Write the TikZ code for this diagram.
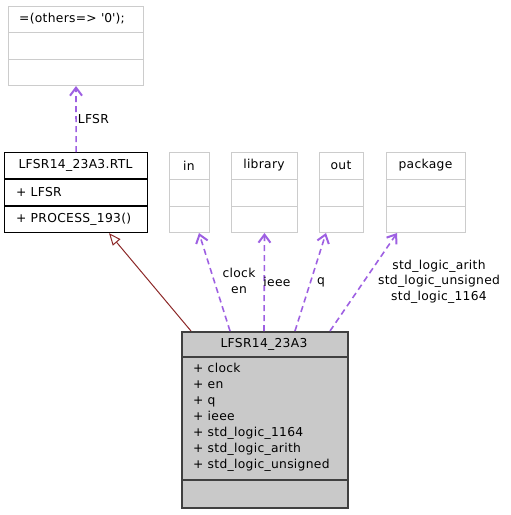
\documentclass[tikz,border=0pt]{standalone}
\usepackage{fontspec}
\setmainfont{DejaVu Sans}[LetterSpace=2.5]
\usetikzlibrary{arrows.meta}
\definecolor{boxgray}{RGB}{204,204,204}
\definecolor{mainfill}{RGB}{201,201,201}
\definecolor{maindraw}{RGB}{64,64,64}
\definecolor{deppurple}{RGB}{158,96,226}
\definecolor{inhred}{RGB}{140,40,40}
\tikzset{
  lightbox/.style={draw=boxgray, line width=1pt, fill=white, anchor=north west, inner sep=0pt},
  darkbox/.style={draw=black, line width=1.2pt, fill=white, anchor=north west, inner sep=0pt},
  mainbox/.style={draw=maindraw, line width=1.5pt, fill=mainfill, anchor=north west, inner sep=0pt},
  txt/.style={font=\fontsize{12.3}{14}\selectfont, inner sep=0pt},
  dep/.style={draw=deppurple, line width=1.6pt, dash pattern=on 6pt off 4pt, -{Straight Barb[length=8pt,width=12pt,line width=2pt]}},
  inh/.style={draw=inhred, line width=1pt, -{Triangle[open,length=12pt,width=10pt,fill=white]}},
}
\begin{document}
\begin{tikzpicture}[x=1pt,y=-1pt]
\useasboundingbox (0,0) rectangle (511,515);
% top box
\node[lightbox, minimum width=135pt, minimum height=79pt] (others) at (8,6) {};
\draw[boxgray, line width=1pt] (8,32) -- (143,32) (8,59) -- (143,59);
\node[txt] (otherst) at (72,19) {=(others=> \textquotesingle 0\textquotesingle);};
% RTL box
\node[darkbox, minimum width=143pt, minimum height=80pt] (rtl) at (4,152) {};
\draw[black, line width=1.4pt] (4,179) -- (147,179);
\draw[black, line width=1.2pt] (4,206) -- (147,206);
\node[txt] (rtlt) at (75.5,165.5) {LFSR14\_23A3.RTL};
\node[txt, anchor=west] (rtla) at (16,192.5) {+ LFSR};
\node[txt, anchor=west] (rtlm) at (16,219.5) {+ PROCESS\_193()};
% in
\node[lightbox, minimum width=40pt, minimum height=80pt] (in) at (169,152) {};
\draw[boxgray, line width=1pt] (169,179) -- (209,179) (169,206) -- (209,206);
\node[txt] (int) at (189,165.5) {in};
% library
\node[lightbox, minimum width=66pt, minimum height=80pt] (lib) at (231,152) {};
\draw[boxgray, line width=1pt] (231,179) -- (297,179) (231,206) -- (297,206);
\node[txt] (libt) at (264,165.5) {library};
% out
\node[lightbox, minimum width=44pt, minimum height=80pt] (out) at (319,152) {};
\draw[boxgray, line width=1pt] (319,179) -- (363,179) (319,206) -- (363,206);
\node[txt] (outt) at (341,165.5) {out};
% package
\node[lightbox, minimum width=79pt, minimum height=80pt] (pkg) at (386,152) {};
\draw[boxgray, line width=1pt] (386,179) -- (465,179) (386,206) -- (465,206);
\node[txt] (pkgt) at (425.5,165.5) {package};
% main box
\node[mainbox, minimum width=166pt, minimum height=176pt] (main) at (181,331) {};
\draw[maindraw, line width=1.5pt] (181,357) -- (347,357) (181,480) -- (347,480);
\node[txt] (maint) at (264,344) {LFSR14\_23A3};
\node[txt, anchor=north west, align=left, font=\fontsize{12.3}{16}\selectfont] (mainattr) at (193,363)
  {+ clock\\+ en\\+ q\\+ ieee\\+ std\_logic\_1164\\+ std\_logic\_arith\\+ std\_logic\_unsigned};
% connectors
\draw[dep] (rtl.north) -- (others.south) node[pos=0.5, right=1pt, txt, text=black] (lfsrl) {LFSR};
\draw[inh] ([xshift=10pt]main.north west) -- ([xshift=105pt]rtl.south west);
\draw[dep] ([xshift=49pt]main.north west) -- ([xshift=30pt]in.south west);
\draw[dep] ([xshift=83pt]main.north west) -- (lib.south);
\draw[dep] ([xshift=114pt]main.north west) -- ([xshift=7pt]out.south west);
\draw[dep] ([xshift=149pt]main.north west) -- ([xshift=11pt]pkg.south west);
\node[txt, align=center, font=\fontsize{12.3}{16}\selectfont] (lin) at (239,281) {clock\\en};
\node[txt] (llib) at (277,282) {ieee};
\node[txt] (lout) at (321,282) {q};
\node[txt, align=center, font=\fontsize{12.3}{15.5}\selectfont] (lpkg) at (439,281.5) {std\_logic\_arith\\std\_logic\_unsigned\\std\_logic\_1164};
\end{tikzpicture}
\end{document}
